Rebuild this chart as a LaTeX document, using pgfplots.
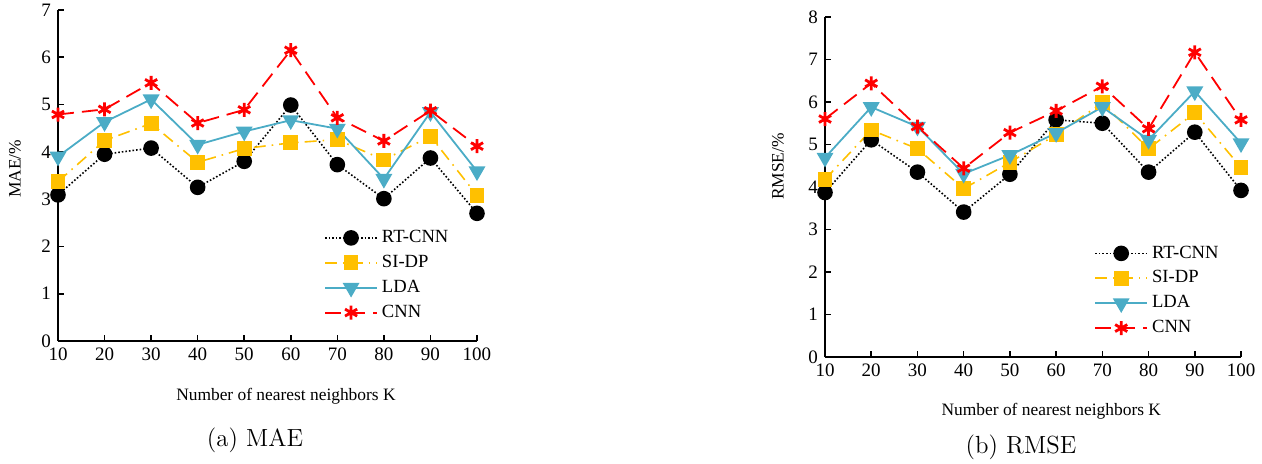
\documentclass[border=0pt]{standalone}
\usepackage{pgfplots}
\usepackage{pgfplotstable}
\pgfplotsset{compat=1.18}
\usepackage{fontspec}
\newfontfamily\tnr{Liberation Serif}
\definecolor{cyel}{RGB}{255,192,0}
\definecolor{cblue}{RGB}{75,172,198}
\definecolor{cred}{RGB}{255,0,0}

\pgfplotstableread{
K   rt    si    lda   cnn
10  3.09  3.37  3.90  4.79
20  3.95  4.24  4.63  4.90
30  4.08  4.60  5.11  5.46
40  3.25  3.78  4.15  4.61
50  3.80  4.07  4.43  4.89
60  4.99  4.19  4.67  6.15
70  3.73  4.26  4.49  4.72
80  3.01  3.83  3.43  4.23
90  3.87  4.33  4.84  4.87
100 2.70  3.08  3.59  4.12
}\maetab

\pgfplotstableread{
K   rt    si    lda   cnn
10  3.87  4.18  4.69  5.60
20  5.11  5.34  5.88  6.44
30  4.35  4.90  5.42  5.42
40  3.41  3.96  4.31  4.44
50  4.30  4.58  4.75  5.28
60  5.58  5.23  5.27  5.79
70  5.50  5.98  5.88  6.37
80  4.35  4.90  5.11  5.37
90  5.29  5.75  6.25  7.17
100 3.92  4.46  5.03  5.58
}\rmsetab

\pgfplotsset{
 myax/.style={
  scale only axis, axis lines*=left, axis line style={line width=0.8pt},
  tick align=inside, major tick length=3pt, tick style={line width=0.8pt, black},
  xmin=10, xmax=100, xtick={10,20,...,100}, ymin=0,
  /pgf/number format/assume math mode=true,
  ticklabel style={font=\tnr\fontsize{9.5}{11}\selectfont},
  label style={font=\tnr\fontsize{8.7}{10}\selectfont},
  legend style={draw=none, fill=none, font=\tnr\fontsize{9.3}{10}\selectfont, row sep=0.8pt, anchor=north west},
  legend cell align=left,
  clip=false,
 },
 legline/.style={legend image code/.code={\draw[mark repeat=2,mark phase=2,##1] plot coordinates {(0pt,0pt) (13pt,0pt) (26pt,0pt)};}},
 rt/.style={black, densely dotted, line width=0.8pt, mark=*, mark size=3.5pt, mark options={solid, fill=black}, legline},
 si/.style={cyel, dash pattern=on 6pt off 3pt on 0.8pt off 3pt, line width=0.8pt, mark=square*, mark size=3.3pt, mark options={solid, fill=cyel}, legline},
 lda/.style={cblue, solid, line width=0.9pt, mark=triangle*, mark size=4pt, mark options={solid, rotate=180, fill=cblue}, legline},
 cnn/.style={cred, dash pattern=on 8pt off 4pt, line width=0.9pt, mark=asterisk, mark size=3.5pt, mark options={solid, line width=1.4pt}, legline},
}

\begin{document}
\begin{tikzpicture}
\useasboundingbox (0,0) rectangle (631pt,-232pt);
\begin{axis}[myax, at={(29pt,-170.5pt)}, anchor=south west,
  width=209.5pt, height=165.5pt, ymax=7, ytick={0,1,...,7},
  xlabel={Number of nearest neighbors K}, ylabel={MAE/\%},
  xlabel style={at={(axis description cs:0.544,0)}, anchor=center, yshift=-27.5pt},
  ylabel style={at={(axis description cs:-0.103,0.52)}, anchor=center},
  legend style={at={(axis description cs:0.62,0.36)}}]
\addplot[rt] table[x=K,y=rt] {\maetab};
\addplot[si] table[x=K,y=si] {\maetab};
\addplot[lda] table[x=K,y=lda] {\maetab};
\addplot[cnn] table[x=K,y=cnn] {\maetab};
\legend{RT-CNN,SI-DP,LDA,CNN}
\end{axis}
\begin{axis}[myax, at={(412.5pt,-178.5pt)}, anchor=south west,
  width=208pt, height=170pt, ymax=8, ytick={0,1,...,8},
  xlabel={Number of nearest neighbors K}, ylabel={RMSE/\%},
  xlabel style={at={(axis description cs:0.544,0)}, anchor=center, yshift=-27pt},
  ylabel style={at={(axis description cs:-0.113,0.56)}, anchor=center},
  legend style={at={(axis description cs:0.632,0.352)}}]
\addplot[rt] table[x=K,y=rt] {\rmsetab};
\addplot[si] table[x=K,y=si] {\rmsetab};
\addplot[lda] table[x=K,y=lda] {\rmsetab};
\addplot[cnn] table[x=K,y=cnn] {\rmsetab};
\legend{RT-CNN,SI-DP,LDA,CNN}
\end{axis}
\node[font=\fontsize{12.4}{14}\selectfont] at (127.5pt,-220pt) {(a) MAE};
\node[font=\fontsize{12.4}{14}\selectfont] at (510.5pt,-223.5pt) {(b) RMSE};
\end{tikzpicture}
\end{document}
